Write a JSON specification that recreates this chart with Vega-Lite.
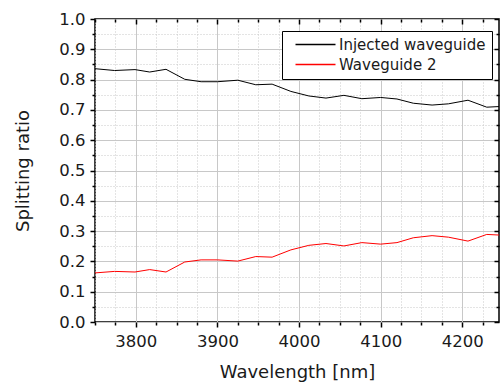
{
  "$schema": "https://vega.github.io/schema/vega-lite/v6.json",
  "width": 404,
  "height": 303,
  "autosize": {"type": "none"},
  "padding": {"left": 95, "top": 19, "right": 1, "bottom": 63},
  "background": "white",
  "config": {
    "font": "DejaVu Sans",
    "view": {"stroke": "black", "strokeWidth": 1.5}
  },
  "data": {"values": [
    {"wl": 3750, "ratio": 0.836, "series": "Injected waveguide"},
    {"wl": 3774, "ratio": 0.830, "series": "Injected waveguide"},
    {"wl": 3799, "ratio": 0.833, "series": "Injected waveguide"},
    {"wl": 3817, "ratio": 0.825, "series": "Injected waveguide"},
    {"wl": 3837, "ratio": 0.834, "series": "Injected waveguide"},
    {"wl": 3860, "ratio": 0.801, "series": "Injected waveguide"},
    {"wl": 3880, "ratio": 0.793, "series": "Injected waveguide"},
    {"wl": 3900, "ratio": 0.793, "series": "Injected waveguide"},
    {"wl": 3925, "ratio": 0.798, "series": "Injected waveguide"},
    {"wl": 3947, "ratio": 0.783, "series": "Injected waveguide"},
    {"wl": 3967, "ratio": 0.785, "series": "Injected waveguide"},
    {"wl": 3990, "ratio": 0.761, "series": "Injected waveguide"},
    {"wl": 4012, "ratio": 0.746, "series": "Injected waveguide"},
    {"wl": 4033, "ratio": 0.739, "series": "Injected waveguide"},
    {"wl": 4055, "ratio": 0.748, "series": "Injected waveguide"},
    {"wl": 4077, "ratio": 0.737, "series": "Injected waveguide"},
    {"wl": 4100, "ratio": 0.741, "series": "Injected waveguide"},
    {"wl": 4120, "ratio": 0.736, "series": "Injected waveguide"},
    {"wl": 4140, "ratio": 0.722, "series": "Injected waveguide"},
    {"wl": 4163, "ratio": 0.716, "series": "Injected waveguide"},
    {"wl": 4183, "ratio": 0.720, "series": "Injected waveguide"},
    {"wl": 4207, "ratio": 0.732, "series": "Injected waveguide"},
    {"wl": 4230, "ratio": 0.709, "series": "Injected waveguide"},
    {"wl": 4245, "ratio": 0.711, "series": "Injected waveguide"},
    {"wl": 3750, "ratio": 0.162, "series": "Waveguide 2"},
    {"wl": 3774, "ratio": 0.167, "series": "Waveguide 2"},
    {"wl": 3799, "ratio": 0.165, "series": "Waveguide 2"},
    {"wl": 3817, "ratio": 0.173, "series": "Waveguide 2"},
    {"wl": 3837, "ratio": 0.165, "series": "Waveguide 2"},
    {"wl": 3860, "ratio": 0.198, "series": "Waveguide 2"},
    {"wl": 3880, "ratio": 0.205, "series": "Waveguide 2"},
    {"wl": 3900, "ratio": 0.205, "series": "Waveguide 2"},
    {"wl": 3925, "ratio": 0.201, "series": "Waveguide 2"},
    {"wl": 3947, "ratio": 0.216, "series": "Waveguide 2"},
    {"wl": 3967, "ratio": 0.214, "series": "Waveguide 2"},
    {"wl": 3990, "ratio": 0.238, "series": "Waveguide 2"},
    {"wl": 4012, "ratio": 0.253, "series": "Waveguide 2"},
    {"wl": 4033, "ratio": 0.259, "series": "Waveguide 2"},
    {"wl": 4055, "ratio": 0.251, "series": "Waveguide 2"},
    {"wl": 4077, "ratio": 0.262, "series": "Waveguide 2"},
    {"wl": 4100, "ratio": 0.257, "series": "Waveguide 2"},
    {"wl": 4120, "ratio": 0.262, "series": "Waveguide 2"},
    {"wl": 4140, "ratio": 0.278, "series": "Waveguide 2"},
    {"wl": 4163, "ratio": 0.285, "series": "Waveguide 2"},
    {"wl": 4183, "ratio": 0.280, "series": "Waveguide 2"},
    {"wl": 4207, "ratio": 0.267, "series": "Waveguide 2"},
    {"wl": 4230, "ratio": 0.289, "series": "Waveguide 2"},
    {"wl": 4245, "ratio": 0.287, "series": "Waveguide 2"}
  ]},
  "layer": [
    {
      "mark": {"type": "line", "strokeWidth": 1, "clip": true},
      "encoding": {
        "x": {
          "field": "wl", "type": "quantitative",
          "scale": {"domain": [3750, 4245], "nice": false, "zero": false},
          "axis": {
            "title": "Wavelength [nm]",
            "titleFontSize": 18, "titleFontWeight": "normal", "titleColor": "#1a1a1a", "titlePadding": 14,
            "values": [3750, 3775, 3800, 3825, 3850, 3875, 3900, 3925, 3950, 3975, 4000, 4025, 4050, 4075, 4100, 4125, 4150, 4175, 4200, 4225],
            "labelExpr": "datum.value % 100 === 0 ? datum.label : ''",
            "format": "d",
            "labelFontSize": 16.5, "labelColor": "#1a1a1a", "labelPadding": 6,
            "domain": false,
            "tickColor": "black", "tickWidth": 1.5,
            "tickSize": {"condition": {"test": "datum.value % 100 === 0", "value": 5}, "value": 3},
            "grid": true,
            "gridColor": "#c8c8c8",
            "gridDash": {"condition": {"test": "datum.value % 100 === 0", "value": []}, "value": [1, 2]},
            "gridWidth": 1
          }
        },
        "y": {
          "field": "ratio", "type": "quantitative",
          "scale": {"domain": [0, 1], "nice": false},
          "axis": {
            "title": "Splitting ratio",
            "titleFontSize": 18, "titleFontWeight": "normal", "titleColor": "#1a1a1a", "titlePadding": 26,
            "values": [0, 0.05, 0.1, 0.15, 0.2, 0.25, 0.3, 0.35, 0.4, 0.45, 0.5, 0.55, 0.6, 0.65, 0.7, 0.75, 0.8, 0.85, 0.9, 0.95, 1.0],
            "labelExpr": "round(datum.value * 100) % 10 === 0 ? format(datum.value, '.1f') : ''",
            "labelFontSize": 16.5, "labelColor": "#1a1a1a", "labelPadding": 5,
            "domain": false,
            "tickColor": "black", "tickWidth": 1.5,
            "tickSize": {"condition": {"test": "round(datum.value * 100) % 10 === 0", "value": 5}, "value": 3},
            "grid": true,
            "gridColor": "#c8c8c8",
            "gridDash": {"condition": {"test": "round(datum.value * 100) % 10 === 0", "value": []}, "value": [1, 2]},
            "gridWidth": 1
          }
        },
        "color": {
          "field": "series", "type": "nominal",
          "scale": {"domain": ["Injected waveguide", "Waveguide 2"], "range": ["black", "red"]},
          "legend": {
            "title": null,
            "orient": "none", "legendX": 187, "legendY": 12,
            "strokeColor": "black", "fillColor": "white",
            "padding": 6, "rowPadding": 4,
            "symbolType": "M0,0H8", "symbolSize": 100, "symbolStrokeWidth": 1.5,
            "labelFontSize": 15, "labelColor": "#1a1a1a", "labelOffset": 36,
            "offset": 0
          }
        }
      }
    },
    {
      "mark": {"type": "line", "opacity": 0},
      "encoding": {
        "x": {
          "field": "wl", "type": "quantitative",
          "axis": {
            "orient": "top", "title": null, "labels": false, "domain": false,
            "values": [3750, 3775, 3800, 3825, 3850, 3875, 3900, 3925, 3950, 3975, 4000, 4025, 4050, 4075, 4100, 4125, 4150, 4175, 4200, 4225],
            "tickColor": "black", "tickWidth": 1.5,
            "tickSize": {"condition": {"test": "datum.value % 100 === 0", "value": -5}, "value": -3},
            "grid": false
          }
        },
        "y": {
          "field": "ratio", "type": "quantitative",
          "axis": {
            "orient": "right", "title": null, "labels": false, "domain": false,
            "values": [0, 0.05, 0.1, 0.15, 0.2, 0.25, 0.3, 0.35, 0.4, 0.45, 0.5, 0.55, 0.6, 0.65, 0.7, 0.75, 0.8, 0.85, 0.9, 0.95, 1.0],
            "tickColor": "black", "tickWidth": 1.5,
            "tickSize": {"condition": {"test": "round(datum.value * 100) % 10 === 0", "value": -5}, "value": -3},
            "grid": false
          }
        },
        "detail": {"field": "series", "type": "nominal"}
      }
    }
  ],
  "resolve": {"axis": {"x": "independent", "y": "independent"}}
}
